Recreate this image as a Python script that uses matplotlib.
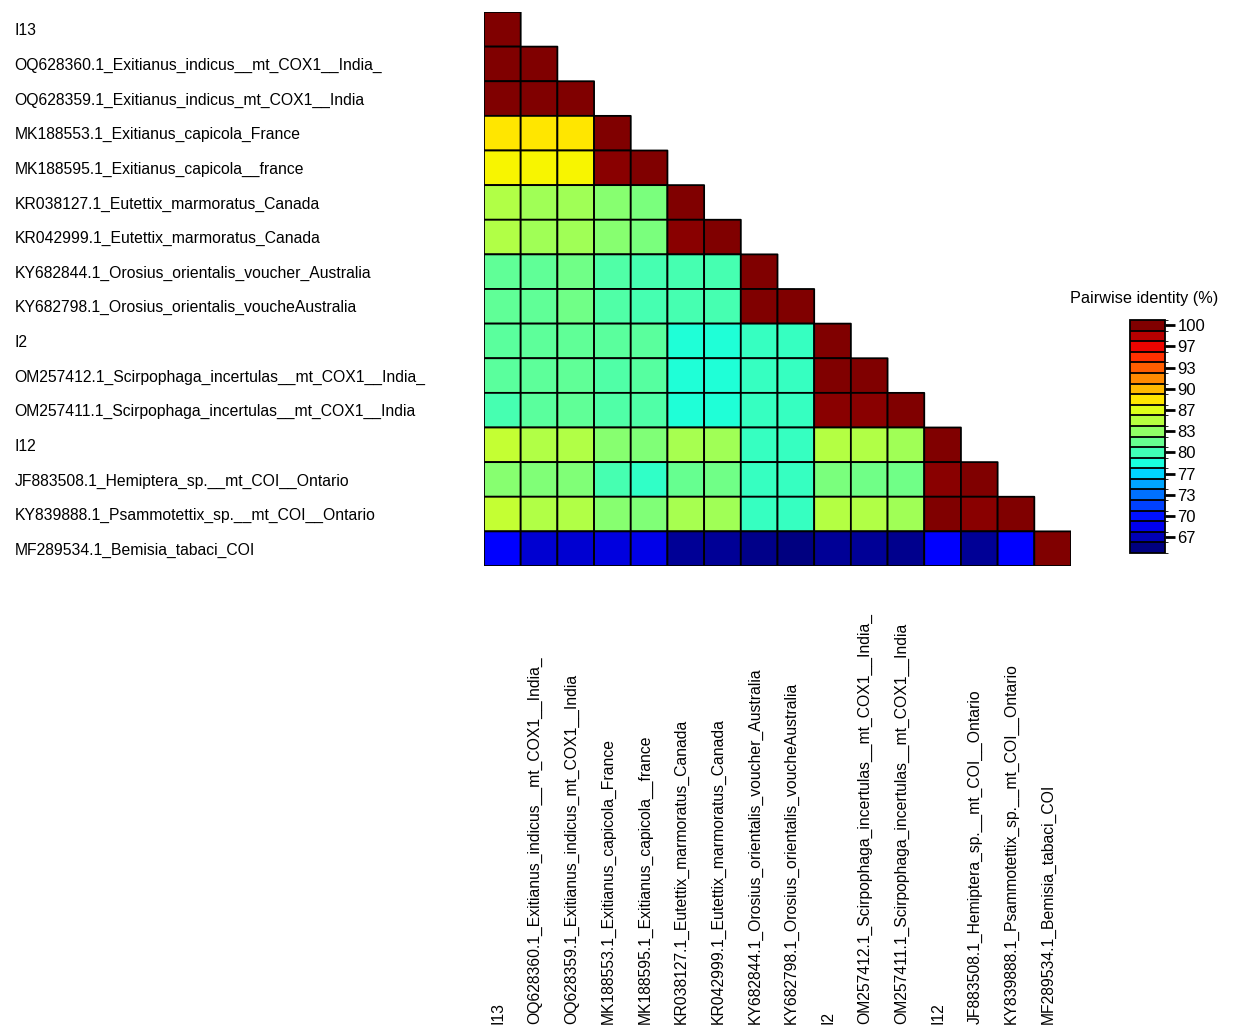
import numpy as np
import matplotlib
matplotlib.use("Agg")
import matplotlib.pyplot as plt
from matplotlib.colors import Normalize, ListedColormap, BoundaryNorm

plt.rcParams['font.family'] = ['Liberation Sans', 'DejaVu Sans']

names = [
    "I13",
    "OQ628360.1_Exitianus_indicus__mt_COX1__India_",
    "OQ628359.1_Exitianus_indicus_mt_COX1__India",
    "MK188553.1_Exitianus_capicola_France",
    "MK188595.1_Exitianus_capicola__france",
    "KR038127.1_Eutettix_marmoratus_Canada",
    "KR042999.1_Eutettix_marmoratus_Canada",
    "KY682844.1_Orosius_orientalis_voucher_Australia",
    "KY682798.1_Orosius_orientalis_voucheAustralia",
    "I2",
    "OM257412.1_Scirpophaga_incertulas__mt_COX1__India_",
    "OM257411.1_Scirpophaga_incertulas__mt_COX1__India",
    "I12",
    "JF883508.1_Hemiptera_sp.__mt_COI__Ontario",
    "KY839888.1_Psammotettix_sp.__mt_COI__Ontario",
    "MF289534.1_Bemisia_tabaci_COI",
]

# lower triangle, row by row (pairwise identity %)
rows = [
    [100],
    [100, 100],
    [100, 100, 100],
    [88.3, 88.3, 88.3, 100],
    [87.7, 87.7, 87.7, 99.7, 100],
    [84.7, 84.1, 84.1, 83.0, 82.4, 100],
    [84.7, 84.1, 84.1, 83.0, 82.4, 99.7, 100],
    [81.3, 81.3, 82.0, 80.6, 80.2, 80.3, 80.3, 100],
    [81.3, 81.3, 82.0, 80.6, 80.2, 80.3, 80.3, 100, 100],
    [81.0, 81.2, 81.3, 81.0, 81.0, 78.6, 78.6, 79.5, 79.5, 100],
    [81.0, 81.2, 81.3, 80.6, 80.9, 78.6, 78.6, 79.5, 79.5, 100, 100],
    [80.3, 81.0, 81.3, 80.6, 80.6, 78.6, 78.6, 79.5, 79.5, 99.7, 99.7, 100],
    [85.6, 84.7, 84.7, 83.0, 82.7, 84.4, 84.1, 79.5, 79.5, 84.9, 84.7, 84.1, 100],
    [83.0, 82.7, 82.7, 80.3, 79.3, 81.6, 82.0, 79.5, 79.5, 82.4, 82.0, 82.0, 99.7, 100],
    [85.6, 84.7, 84.7, 83.0, 82.7, 84.4, 84.1, 79.5, 79.5, 84.9, 84.7, 84.1, 99.9, 99.7, 100],
    [69.0, 67.5, 67.5, 67.9, 68.2, 65.8, 65.8, 65.3, 65.0, 65.7, 65.8, 65.5, 69.0, 65.8, 69.0, 100],
]

cbar_ticks = [100, 96.67, 93.33, 90, 86.67, 83.33, 80, 76.67, 73.33, 70, 66.67]
cbar_labels = ["100", "97", "93", "90", "87", "83", "80", "77", "73", "70", "67"]

n = len(names)
mat = np.full((n, n), np.nan)
for i, r in enumerate(rows):
    mat[i, :len(r)] = r
mat = np.ma.masked_invalid(mat)

fig = plt.figure(figsize=(12.34, 10.28), dpi=100)
ax = fig.add_axes([484 / 1234, 1 - 566 / 1028, 587 / 1234, 554 / 1028])

norm = Normalize(65, 100)
# pcolor leaves masked (upper triangle) cells out entirely
ax.pcolor(np.arange(n + 1), np.arange(n + 1), mat, cmap='jet', norm=norm,
          edgecolors='black', linewidth=1.3)
ax.set_xlim(0, n)
ax.set_ylim(n, 0)
for s in ax.spines.values():
    s.set_visible(False)

ax.set_yticks(np.arange(n) + 0.5)
ax.set_yticklabels(names, fontsize=11.3, ha='left')
ax.tick_params(axis='y', length=0, pad=338)

ax.set_xticks(np.arange(n) + 0.5 - 0.12)
ax.set_xticklabels(names, fontsize=11.3, rotation=90)
plt.setp(ax.get_xticklabels(), va='bottom')
ax.tick_params(axis='x', length=0, pad=330)

# discrete colour key
levels = np.linspace(65, 100, 22)
step = levels[1] - levels[0]
bounds = np.concatenate([levels - step / 2, [levels[-1] + step / 2]])
key_cmap = ListedColormap(plt.get_cmap('jet')(norm(levels)))
cax = fig.add_axes([1130 / 1234, 1 - 553 / 1028, 35 / 1234, 233 / 1028])
sm = plt.cm.ScalarMappable(norm=BoundaryNorm(bounds, key_cmap.N), cmap=key_cmap)
cb = fig.colorbar(sm, cax=cax, drawedges=True, ticks=cbar_ticks)
cb.set_ticklabels(cbar_labels)
cb.outline.set_linewidth(1.3)
cb.dividers.set_linewidth(1.3)
cax.tick_params(length=7, width=2, labelsize=12, pad=2)
cax.set_title("Pairwise identity (%)", fontsize=11.7, pad=12, x=0.4)

fig.savefig("out.png", dpi=100)
